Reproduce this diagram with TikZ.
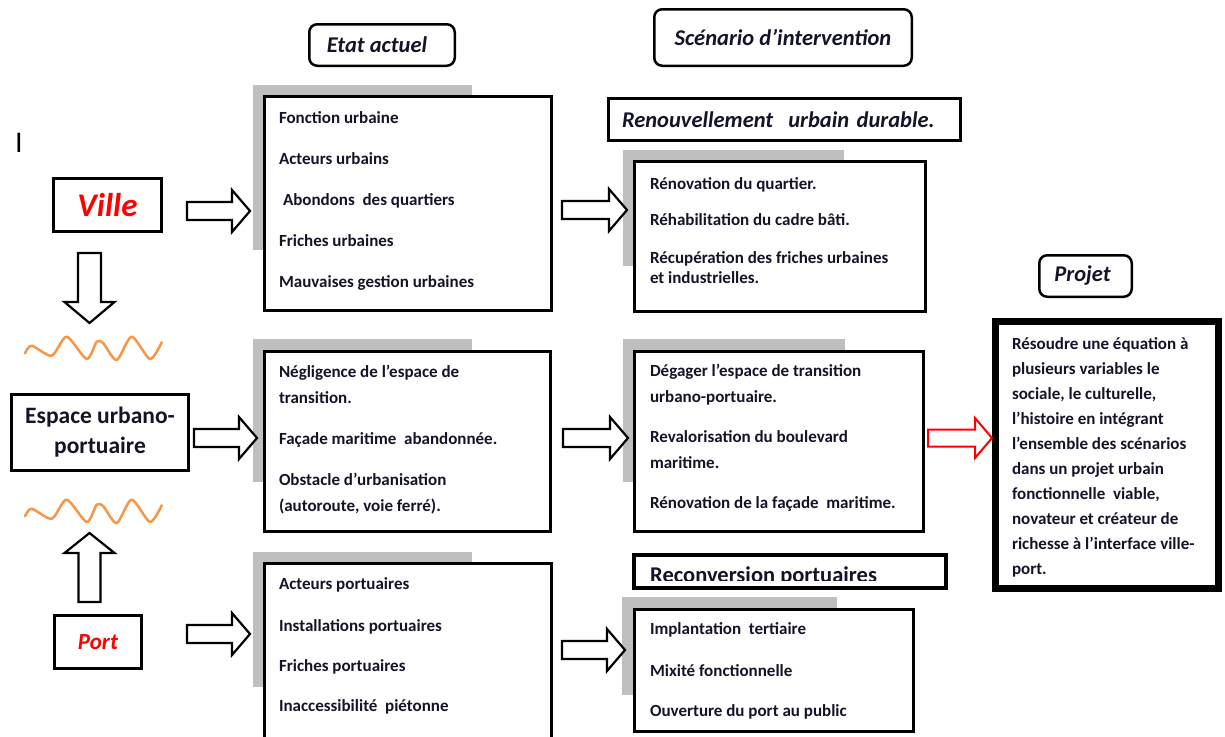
\documentclass[tikz,border=0pt]{standalone}
\usepackage{fontspec}
\setmainfont{Carlito}
\definecolor{inkcol}{RGB}{20,20,40}
\definecolor{shadegray}{RGB}{191,191,191}
\definecolor{waveorange}{RGB}{247,150,70}
\definecolor{villered}{RGB}{255,0,0}
\usetikzlibrary{positioning,calc,backgrounds}

\tikzset{
  framebox/.style={draw=black,fill=white,line width=3pt,text=inkcol,
        font=\fontsize{23.5}{30}\selectfont\bfseries,align=center},
  titlebox/.style={draw=black,fill=white,line width=2.5pt,rounded corners=8pt,
        text=inkcol,font=\fontsize{22.5}{25}\selectfont\bfseries\itshape},
  listbox/.style={draw=black,fill=white,line width=3pt},
  listtext/.style={inner sep=0pt,outer sep=0pt,align=left,text=inkcol,
        font=\fontsize{17}{26}\selectfont\bfseries,
        execute at begin node={\rule{0pt}{14pt}}},
  shadebox/.style={fill=shadegray},
  wave/.style={draw=waveorange,line width=2.5pt,line cap=round,line join=round},
  arrshaft/.store in=\arrshaft, arrhead/.store in=\arrhead, arrlen/.store in=\arrlen,
  arrshaft=9pt, arrhead=21pt, arrlen=18pt,
  fatarrow/.style={draw=black,fill=white,line width=2.2pt,
        to path={let \p1=(\tikztostart),\p2=(\tikztotarget),\p3=($(\p2)!\arrlen!(\p1)$) in
          ($(\p1)!\arrshaft!90:(\p2)$) -- ($(\p3)!\arrshaft!-90:(\p1)$)
          -- ($(\p3)!\arrhead!-90:(\p1)$) -- (\p2) -- ($(\p3)!\arrhead!90:(\p1)$)
          -- ($(\p3)!\arrshaft!90:(\p1)$) -- ($(\p1)!\arrshaft!-90:(\p2)$) -- cycle}}
}

\begin{document}
\begin{tikzpicture}[x=1pt,y=-1pt]
  \begin{scope}[on background layer]
    \fill[white] (0,0) rectangle (1225,736);
  \end{scope}
  \useasboundingbox (0,0) rectangle (1225,736);

  %% Stray mark
  \node[font=\fontsize{30}{30}\selectfont] (mark) at (19,143) {I};

  %% Left column
  \node[framebox,minimum width=108pt,minimum height=53pt,text=villered,
        font=\fontsize{33}{33}\selectfont\bfseries\itshape] (ville) at (107.5,205) {Ville};
  \node[framebox,minimum width=177pt,minimum height=76pt] (espace) at (100,432.5)
        {Espace urbano-\\portuaire};
  \node[framebox,minimum width=87pt,minimum height=53pt,text=villered,
        font=\fontsize{23}{25}\selectfont\bfseries\itshape] (port) at (98,642) {Port};

  %% Waves
  \coordinate (w1) at (89.5,347);
  \coordinate (w2) at (89.5,510);
  \foreach \w in {w1,w2}
    \draw[wave,shift={(\w)}] plot[smooth,tension=0.45] coordinates
      {(-64.5,6.3) (-57.8,-1.3) (-37.8,8.7) (-22.8,-10.3) (-2.8,12) (7.2,-5.3)
       (13.8,-3.7) (27.2,13) (42.2,-10.3) (60.5,12) (72.2,-4.7)};

  %% Column titles
  \node[titlebox,minimum width=145.5pt,minimum height=41.5pt] (etat) at (382,45)
        {Etat actuel\hspace*{10pt}};
  \node[titlebox,minimum width=257.5pt,minimum height=56.5pt] (scen) at (783,37.5)
        {Scénario d’intervention};
  \node[titlebox,minimum width=92.5pt,minimum height=41.5pt] (projtitle) at (1085.5,276)
        {Projet\hspace*{6pt}};

  \node[framebox,font=\fontsize{22.5}{25}\selectfont\bfseries\itshape,text width=325pt,
        inner xsep=13.5pt,minimum height=42pt,align=left] (renouv) at (784.5,119.5)
        {Renouvellement\ \ urbain durable.};

  \node[listbox,line width=4pt,minimum width=312pt,minimum height=33pt] (reconv) at (790,571.5) {};
  \begin{scope}
    \clip (reconv.north west) rectangle ([shift={(0,-10)}]reconv.south east);
    \node[anchor=base west,inner sep=0pt,text=inkcol,font=\fontsize{22.5}{25}\selectfont\bfseries]
          (reconvlbl) at ([shift={(18,-8)}]reconv.south west) {Reconversion portuaires};
  \end{scope}

  %% Etat actuel
  \node[listbox,minimum width=287pt,minimum height=214pt] (e1) at (408,203.5) {};
  \node[listtext,below right=17pt and 16pt of e1.north west] (e1txt)
        {Fonction urbaine\\[15pt]Acteurs urbains\\[15pt]\hspace*{4pt}Abondons\ \ des quartiers\\[15pt]%
         Friches urbaines\\[15pt]Mauvaises gestion urbaines};
  \node[listbox,minimum width=286pt,minimum height=180pt] (e2) at (407.5,441.5) {};
  \node[listtext,below right=15pt and 16pt of e2.north west] (e2txt)
        {Négligence de l’espace de\\transition.\\[15pt]Façade maritime\ \ abandonnée.\\[15pt]%
         Obstacle d’urbanisation\\(autoroute, voie ferré).};
  \node[listbox,minimum width=287pt,minimum height=177pt] (e3) at (408,652) {};
  \node[listtext,below right=16pt and 16pt of e3.north west] (e3txt)
        {Acteurs portuaires\\[16pt]Installations portuaires\\[14pt]Friches portuaires\\[14pt]%
         Inaccessibilité\ \ piétonne};

  %% Scenario d'intervention
  \node[listbox,minimum width=291pt,minimum height=150pt] (s1) at (780,236.5) {};
  \node[listtext,font=\fontsize{17}{20}\selectfont\bfseries,below right=18pt and 17pt of s1.north west]
        (s1txt) {Rénovation du quartier.\\[16pt]Réhabilitation du cadre bâti.\\[18pt]%
         Récupération des friches urbaines\\et industrielles.};
  \node[listbox,minimum width=289pt,minimum height=180pt] (s2) at (779,441.5) {};
  \node[listtext,below right=14pt and 17pt of s2.north west] (s2txt)
        {Dégager l’espace de transition\\urbano-portuaire.\\[14pt]Revalorisation du boulevard\\%
         maritime.\\[14pt]Rénovation de la façade\ \ maritime.};
  \node[listbox,minimum width=279pt,minimum height=122pt] (s3) at (774,670.5) {};
  \node[listtext,below right=15pt and 17pt of s3.north west] (s3txt)
        {Implantation\ \ tertiaire\\[16pt]Mixité fonctionnelle\\[14pt]Ouverture du port au public};

  %% Projet
  \node[listbox,line width=7pt,minimum width=223pt,minimum height=267pt] (projet) at (1107,455) {};
  \node[listtext,font=\fontsize{17}{25}\selectfont\bfseries,below right=20pt and 20pt of projet.north west]
        (projtxt) {Résoudre une équation à\\plusieurs variables le\\sociale, le culturelle,\\%
         l’histoire en intégrant\\l’ensemble des scénarios\\dans un projet urbain\\%
         fonctionnelle\ \ viable,\\novateur et créateur de\\richesse à l’interface ville-\\port.};

  %% Shadows
  \begin{scope}[on background layer]
    \foreach \b/\dx/\dy/\w/\h in {e1/-10/-10/219/165, e2/-10/-11/219/143, e3/-10/-10/219/135,
                                  s1/-10/-10/221/116, s2/-10/-11/222/143, s3/-11/-11/215/98}
      \fill[shadebox] ([shift={(\dx,\dy)}]\b.north west) rectangle ++(\w,\h);
  \end{scope}

  %% Arrows
  \draw[fatarrow] ([shift={(24,6)}]ville.east) to ([shift={(-13,7.5)}]e1.west);
  \draw[fatarrow] ([shift={(9,6.5)}]e1.east) to ([shift={(-6,-26.5)}]s1.west);
  \draw[fatarrow] ([shift={(4,5.5)}]espace.east) to ([shift={(-6,-3.5)}]e2.west);
  \draw[fatarrow] ([shift={(11,-3.5)}]e2.east) to ([shift={(-5,-3.5)}]s2.west);
  \draw[fatarrow,draw=red,line width=2pt,arrshaft=8.5pt,arrhead=20pt,arrlen=17pt]
        ([shift={(3,-3.5)}]s2.east) to ([shift={(0,-17)}]projet.west);
  \draw[fatarrow] ([shift={(44,-8)}]port.east) to ([shift={(-13,-18)}]e3.west);
  \draw[fatarrow] ([shift={(9,-2)}]e3.east) to ([shift={(-8,-20.5)}]s3.west);
  \draw[fatarrow,arrshaft=11.5pt,arrhead=25pt,arrlen=21pt] ([shift={(-18,20)}]ville.south) to ([shift={(0,-24)}]w1);
  \draw[fatarrow,arrshaft=11pt,arrhead=25pt,arrlen=20pt] ([shift={(-8.5,-12)}]port.north) to ([shift={(0,23)}]w2);
\end{tikzpicture}
\end{document}
